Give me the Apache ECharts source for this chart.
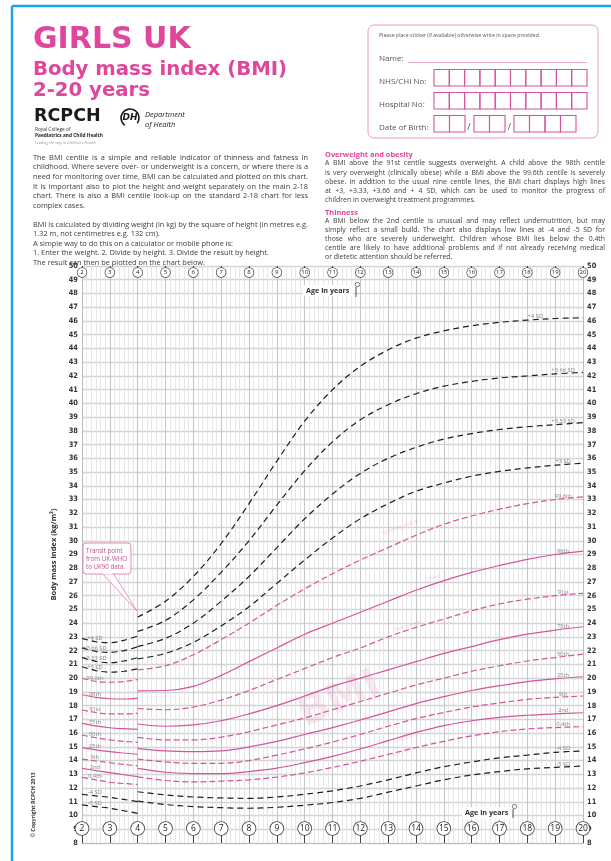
<!DOCTYPE html>
<html><head><meta charset="utf-8">
<script src="https://cdn.jsdelivr.net/npm/echarts@6/dist/echarts.min.js"></script>
<style>html,body{margin:0;padding:0;background:#fff;}#c{width:611px;height:861px;}</style>
</head><body><div id="c"></div>
<script>
// ---------------- DATA ----------------
const agesA = [2, 2.5, 3, 3.5, 4];                 // UK-WHO segment
const agesB = [4,5,6,7,8,9,10,11,12,13,14,15,16,17,18,19,20]; // UK90 segment

const p4A   = [22.9, 22.65, 22.58, 22.75, 23.07];
const p366A = [22.2, 21.95, 21.88, 22.0, 22.29];
const p333A = [21.49, 21.22, 21.12, 21.25, 21.49];
const p3A   = [20.83, 20.55, 20.44, 20.5, 20.68];
const c996A = [19.99, 19.76, 19.7, 19.75, 19.9];
const c98A  = [18.81, 18.6, 18.5, 18.48, 18.53];
const c91A  = [17.68, 17.5, 17.4, 17.4, 17.44];
const c75A  = [16.71, 16.52, 16.39, 16.32, 16.27];
const c50A  = [15.86, 15.66, 15.5, 15.4, 15.33];
const c25A  = [14.94, 14.78, 14.65, 14.55, 14.46];
const c9A   = [14.11, 13.97, 13.84, 13.72, 13.62];
const c2A   = [13.43, 13.27, 13.12, 12.97, 12.83];
const c04A  = [12.78, 12.6, 12.42, 12.33, 12.27];
const m4A   = [11.54, 11.43, 11.32, 11.17, 11.01];
const m5A   = [10.77, 10.65, 10.53, 10.35, 10.16];

const p4B   = [24.45, 25.6, 27.4, 29.8, 32.7, 35.8, 38.7, 41.0, 42.7, 43.9, 44.75, 45.28, 45.65, 45.9, 46.06, 46.18, 46.23];
const p366B = [23.4, 24.2, 25.7, 27.7, 30.0, 32.6, 35.1, 37.2, 38.8, 39.9, 40.7, 41.25, 41.6, 41.85, 42.0, 42.15, 42.25];
const p333B = [22.3, 22.9, 24.0, 25.6, 27.4, 29.5, 31.6, 33.4, 34.9, 36.0, 36.8, 37.4, 37.8, 38.1, 38.3, 38.45, 38.6];
const p3B   = [21.4, 21.8, 22.6, 23.8, 25.2, 26.9, 28.6, 30.2, 31.6, 32.7, 33.6, 34.2, 34.7, 35.05, 35.3, 35.5, 35.65];
const c996B = [20.6, 20.9, 21.7, 22.8, 24.0, 25.3, 26.5, 27.6, 28.6, 29.5, 30.4, 31.2, 31.8, 32.3, 32.7, 33.0, 33.2];
const c98B  = [19.08, 19.1, 19.4, 20.2, 21.2, 22.2, 23.2, 24.0, 24.8, 25.6, 26.4, 27.1, 27.7, 28.2, 28.65, 29.0, 29.25];
const c91B  = [17.79, 17.7, 17.9, 18.4, 19.1, 19.9, 20.7, 21.5, 22.2, 23.0, 23.7, 24.3, 24.9, 25.4, 25.75, 26.0, 26.17];
const c75B  = [16.66, 16.5, 16.6, 16.9, 17.4, 18.0, 18.7, 19.4, 20.0, 20.6, 21.2, 21.8, 22.3, 22.8, 23.2, 23.5, 23.74];
const c50B  = [15.69, 15.5, 15.5, 15.7, 16.1, 16.6, 17.1, 17.7, 18.3, 18.9, 19.5, 20.0, 20.5, 20.9, 21.25, 21.5, 21.75];
const c25B  = [14.89, 14.7, 14.65, 14.7, 15.0, 15.4, 15.9, 16.4, 16.95, 17.55, 18.15, 18.65, 19.1, 19.45, 19.75, 19.95, 20.1];
const c9B   = [14.11, 13.9, 13.8, 13.8, 14.0, 14.4, 14.85, 15.35, 15.9, 16.5, 17.05, 17.5, 17.9, 18.2, 18.45, 18.6, 18.7];
const c2B   = [13.43, 13.15, 13.05, 13.05, 13.2, 13.45, 13.85, 14.3, 14.85, 15.45, 16.05, 16.55, 16.9, 17.15, 17.3, 17.4, 17.48];
const c04B  = [12.82, 12.55, 12.45, 12.5, 12.6, 12.8, 13.1, 13.5, 13.95, 14.45, 14.95, 15.4, 15.8, 16.1, 16.3, 16.4, 16.47];
const m4B   = [11.73, 11.5, 11.35, 11.28, 11.25, 11.35, 11.55, 11.8, 12.15, 12.6, 13.1, 13.55, 13.9, 14.2, 14.4, 14.6, 14.7];
const m5B   = [11.05, 10.8, 10.65, 10.57, 10.53, 10.6, 10.75, 10.95, 11.25, 11.7, 12.15, 12.6, 12.95, 13.2, 13.4, 13.5, 13.6];

const curveNames = ['+4 SD','+3.66 SD','+3.33 SD','+3 SD','99.6th','98th','91st','75th','50th','25th','9th','2nd','0.4th','-4 SD','-5 SD'];
const curveKinds = ['sd','sd','sd','sd','cd','cs','cd','cs','cd','cs','cd','cs','cd','sd','sd'];

// ---------------- BUILD ----------------
const segA = [p4A,p366A,p333A,p3A,c996A,c98A,c91A,c75A,c50A,c25A,c9A,c2A,c04A,m4A,m5A];
const segB = [p4B,p366B,p333B,p3B,c996B,c98B,c91B,c75B,c50B,c25B,c9B,c2B,c04B,m4B,m5B];
const PINK = '#d4549c', TITLE = '#e0469c', GREY = '#3d3d3d';

function lineStyleFor(kind){
  if (kind === 'sd') return {color:'#1e1e1e', width:1.2, type:[6,4]};
  if (kind === 'cd') return {color:PINK, width:1.2, type:[6,3]};
  return {color:PINK, width:1.2, type:'solid'};
}
const series = [];
curveNames.forEach((nm, k) => {
  [[agesA, segA[k]], [agesB, segB[k]]].forEach(([xs, ys], j) => {
    series.push({
      type:'line', name: nm + (j ? ' UK90' : ' UK-WHO'), silent:true, z:3,
      smooth:0.35, symbol:'none', showSymbol:false,
      lineStyle: lineStyleFor(curveKinds[k]),
      data: xs.map((x,i)=>[x, ys[i]])
    });
  });
});
// curve labels (anchored on curve data points)
const labelFont = {fontSize:5.8, color:'#6a6a6a', fontFamily:'"Open Sans", sans-serif'};
series.push({
  type:'scatter', silent:true, z:4, symbol:'circle', symbolSize:1, itemStyle:{color:'rgba(0,0,0,0)'},
  label:{show:true, position:'top', distance:1, offset:[-1,1], formatter:p=>p.data[2], ...labelFont},
  data: curveNames.map((nm,k)=>[agesA[1], segA[k][1], nm])
});
series.push({
  type:'scatter', silent:true, z:4, symbol:'circle', symbolSize:1, itemStyle:{color:'rgba(0,0,0,0)'},
  label:{show:true, position:'top', distance:1, offset:[8,1], formatter:p=>p.data[2], ...labelFont},
  data: curveNames.map((nm,k)=> k===0 ? [agesB[14], segB[k][14], nm] : [agesB[15], segB[k][15], nm])
});

// ---------------- GRAPHICS (header etc.) ----------------
const G = [];
const FAM = '"Open Sans", sans-serif';
function T(x,y,text,o={}){
  G.push({type:'text', x, y, rotation:o.rot||0, silent:true, z:o.z||20,
    style:{text, x:0, y:0, fill:o.color||GREY,
      fontSize:o.size||7, fontFamily:o.family||FAM,
      fontWeight:o.weight||'normal', fontStyle:o.style||'normal',
      align:o.align||'left', verticalAlign:o.va||'middle'}});
}
function R(x,y,w,h,o={}){
  G.push({type:'rect', silent:true, z:o.z||15, shape:{x,y,width:w,height:h,r:o.r||0},
    style:{fill:o.fill||'none', stroke:o.stroke||'none', lineWidth:o.lw||1}});
}
function L(x1,y1,x2,y2,o={}){
  G.push({type:'line', silent:true, z:o.z||15, shape:{x1,y1,x2,y2},
    style:{stroke:o.stroke||'#000', lineWidth:o.lw||1}});
}
const ctx = document.createElement('canvas').getContext('2d');
function J(x,y,width,text,size,o={}){   // justified line
  ctx.font = size+'px "Open Sans"';
  const words = text.split(' ');
  const ws = words.map(w=>ctx.measureText(w).width);
  const sum = ws.reduce((a,b)=>a+b,0);
  const gap = words.length>1 ? (width-sum)/(words.length-1) : 0;
  let cx = x;
  words.forEach((w,i)=>{ T(cx,y,w,{size, color:o.color}); cx += ws[i]+gap; });
}
// frame
L(12,6,611,6,{stroke:'#1ea4e6', lw:2.5});
L(12,6,12,861,{stroke:'#1ea4e6', lw:2.5});
// titles
T(33,40,'GIRLS UK',{size:30, weight:'bold', family:'"DejaVu Sans", sans-serif', color:TITLE});
T(33,70,'Body mass index (BMI)',{size:19.7, weight:'bold', family:'"DejaVu Sans", sans-serif', color:TITLE});
T(33,91,'2-20 years',{size:19.7, weight:'bold', family:'"DejaVu Sans", sans-serif', color:TITLE});
// logos
T(34,116,'RCPCH',{size:17.5, weight:'bold', family:'"DejaVu Sans", sans-serif', color:'#1a1a1a'});
T(35,130,'Royal College of',{size:4.8, color:'#333'});
T(35,135.5,'Paediatrics and Child Health',{size:4.8, weight:'bold', color:'#222'});
T(35,143,'Leading the way in Children\u2019s Health',{size:3.8, style:'italic', color:'#999'});
G.push({type:'arc', silent:true, z:15, shape:{cx:130, cy:118, r:9, startAngle:2.2, endAngle:6.9}, style:{stroke:'#1a1a1a', lineWidth:1.6, fill:'none'}});
T(130,118,'DH',{size:9, weight:'bold', style:'italic', align:'center', color:'#1a1a1a', family:'"DejaVu Sans", sans-serif'});
T(145,115,'Department',{size:7.5, style:'italic', color:'#1a1a1a'});
T(145,124.5,'of Health',{size:7.5, style:'italic', color:'#1a1a1a'});
// form box
R(368,25,230,113,{stroke:'#ea9cc7', lw:1, r:6});
T(379,35.5,'Please place sticker (if available) otherwise write in space provided.',{size:5.2, color:'#555'});
T(379,59,'Name:',{size:8, color:'#555'});
L(408,62.5,587,62.5,{stroke:'#e79ac5', lw:0.8});
T(379,82,'NHS/CHI No:',{size:8, color:'#555'});
T(379,105,'Hospital No:',{size:8, color:'#555'});
T(379,128,'Date of Birth:',{size:8, color:'#555'});
const BX = '#d9509a';
for (let i=0;i<10;i++){ R(434+i*15.3,69.5,15.3,16.5,{stroke:BX,lw:1.1}); R(434+i*15.3,92.5,15.3,16.5,{stroke:BX,lw:1.1}); }
[[434,2],[474,2],[514,4]].forEach(([x0,n])=>{ for(let i=0;i<n;i++) R(x0+i*15.5,115.5,15.5,16.5,{stroke:BX,lw:1.1}); });
T(469,127,'/',{size:9, color:'#555', align:'center'});
T(509.5,127,'/',{size:9, color:'#555', align:'center'});
// paragraphs
const LS = 7.4, RS = 6.9;
const leftPara = [
 'The BMI centile is a simple and reliable indicator of thinness and fatness in',
 'childhood. Where severe over- or underweight is a concern, or where there is a',
 'need for monitoring over time, BMI can be calculated and plotted on this chart.',
 'It is important also to plot the height and weight separately on the main 2-18',
 'chart. There is also a BMI centile look-up on the standard 2-18 chart for less',
 'complex cases.'];
leftPara.forEach((s,i)=> i<leftPara.length-1 ? J(33,157.5+i*9.65,275,s,LS) : T(33,157.5+i*9.65,s,{size:LS}));
const leftPara2 = [
 'BMI is calculated by dividing weight (in kg) by the square of height (in metres e.g.',
 '1.32 m, not centimetres e.g. 132 cm).',
 'A simple way to do this on a calculator or mobile phone is:',
 '1. Enter the weight. 2. Divide by height. 3. Divide the result by height.',
 'The result can then be plotted on the chart below.'];
leftPara2.forEach((s,i)=> i===0 ? J(33,225,275,s,LS) : T(33,225+i*9.35,s,{size:LS}));
T(325,155,'Overweight and obesity',{size:7.4, weight:'bold', color:TITLE});
const rightPara = [
 'A BMI above the 91st centile suggests overweight. A child above the 98th centile',
 'is very overweight (clinically obese) while a BMI above the 99.6th centile is severely',
 'obese. In addition to the usual nine centile lines, the BMI chart displays high lines',
 'at +3, +3.33, +3.66 and + 4 SD, which can be used to monitor the progress of',
 'children in overweight treatment programmes.'];
rightPara.forEach((s,i)=> i<rightPara.length-1 ? J(325,163.5+i*9.05,280,s,RS) : T(325,163.5+i*9.05,s,{size:RS}));
T(325,212.5,'Thinness',{size:7.4, weight:'bold', color:TITLE});
const rightPara2 = [
 'A BMI below the 2nd centile is unusual and may reflect undernutrition, but may',
 'simply reflect a small build. The chart also displays low lines at -4 and -5 SD for',
 'those who are severely underweight. Children whose BMI lies below the 0.4th',
 'centile are likely to have additional problems and if not already receiving medical',
 'or dietetic attention should be referred.'];
rightPara2.forEach((s,i)=> i<rightPara2.length-1 ? J(325,221+i*9.05,280,s,RS) : T(325,221+i*9.05,s,{size:RS}));
// copyright
T(33,805,'\u00a9 Copyright RCPCH 2013',{size:5.4, weight:'bold', rot:Math.PI/2, align:'center', color:'#333'});
// age in years labels
R(303,285,50,11,{fill:'#fff', z:12});
T(306,291,'Age in years',{size:7.2, weight:'bold', color:'#333', z:21});
L(356,287,356,297,{stroke:'#444', lw:0.9, z:21});
G.push({type:'circle', silent:true, z:21, shape:{cx:357.5,cy:284.5,r:2.2}, style:{fill:'#fff', stroke:'#444', lineWidth:0.7}});
R(462,807,50,12,{fill:'#fff', z:12});
T(465,813,'Age in years',{size:7.2, weight:'bold', color:'#333', z:21});
L(513,809,513,818,{stroke:'#444', lw:0.9, z:21});
G.push({type:'circle', silent:true, z:21, shape:{cx:514.5,cy:806.5,r:2.2}, style:{fill:'#fff', stroke:'#444', lineWidth:0.7}});
// transit box
G.push({type:'polygon', silent:true, z:16, shape:{points:[[102,573],[113,573],[137,611]]}, style:{fill:'#fff', stroke:'#e37bb5', lineWidth:0.8}});
R(83,543,48,31,{fill:'#fff', stroke:'#e37bb5', lw:0.9, r:3, z:17});
L(103,573.5,112.5,573.5,{stroke:'#fff', lw:1.4, z:18});
T(86,551,'Transit point',{size:6.2, color:'#c4508a'});
T(86,559.3,'from UK-WHO',{size:6.2, color:'#c4508a'});
T(86,567.6,'to UK90 data.',{size:6.2, color:'#c4508a'});
// watermarks
const WM = 'rgba(232,120,175,0.16)';
T(340,700,'BMI',{size:40, weight:'bold', family:'"DejaVu Sans", sans-serif', color:WM, rot:0.42, align:'center', z:1});
const WS = 'rgba(228,120,175,0.35)';
T(408,626,'Overweight',{size:5.5, color:WS, rot:0.3, align:'center', z:2});
T(433,578,'Obese',{size:5.5, color:WS, rot:0.3, align:'center', z:2});
T(400,527,'Severely obese',{size:5.5, color:WS, rot:0.35, align:'center', z:2});
T(404,738,'Low BMI',{size:5.5, color:WS, rot:0.3, align:'center', z:2});
T(404,752,'Very thin',{size:5.5, color:WS, rot:0.3, align:'center', z:2});

// ---------------- OPTION ----------------
const axisLblFont = {fontSize:7.4, fontWeight:'bold', color:'#333', fontFamily:'"DejaVu Sans Condensed","DejaVu Sans",sans-serif'};
const option = {
  animation:false,
  backgroundColor:'#fff',
  grid:{left:82, right:28, top:266, bottom:18, containLabel:false},
  xAxis:[{
    type:'value', min:2, max:20, interval:1, position:'bottom',
    axisLine:{show:true, lineStyle:{color:'#bdbdbd', width:1}},
    axisTick:{show:true, inside:true, length:8, lineStyle:{color:'#444', width:1}},
    axisLabel:{show:true, inside:true, margin:8, interval:0, showMinLabel:true, showMaxLabel:true,
      formatter:v=>'{c|'+v+'}',
      rich:{c:{width:13, height:13, lineHeight:13, align:'center', borderRadius:7, borderColor:'#444', borderWidth:0.8, backgroundColor:'#fff', fontSize:8.5, color:'#222', fontFamily:FAM}}},
    splitLine:{show:true, lineStyle:{color:'#c6c6c6', width:1.1}},
    minorTick:{show:true, splitNumber:6, length:0},
    minorSplitLine:{show:true, lineStyle:{color:'#e1e1e1', width:0.8}}
  },{
    type:'value', min:2, max:20, interval:1, position:'top',
    axisLine:{show:false},
    axisTick:{show:true, inside:true, length:5, lineStyle:{color:'#444', width:1}},
    axisLabel:{show:true, inside:true, margin:2, interval:0, showMinLabel:true, showMaxLabel:true,
      formatter:v=>'{c|'+v+'}',
      rich:{c:{width:9, height:9, lineHeight:9, align:'center', borderRadius:5, borderColor:'#444', borderWidth:0.7, backgroundColor:'#fff', fontSize:6, color:'#222', fontFamily:FAM}}},
    splitLine:{show:false}
  }],
  yAxis:[{
    type:'value', min:8, max:50, interval:1, position:'left',
    name:'Body mass index (kg/m\u00b2)', nameLocation:'middle', nameGap:20, nameRotate:90,
    nameTextStyle:{fontSize:7.5, fontWeight:'bold', color:'#333', fontFamily:FAM},
    axisLine:{show:true, lineStyle:{color:'#bdbdbd'}}, axisTick:{show:false},
    axisLabel:{margin:4, ...axisLblFont},
    splitLine:{show:true, lineStyle:{color:'#d3d3d3', width:1.4}}
  },{
    type:'value', min:8, max:50, interval:1, position:'right',
    axisLine:{show:true, lineStyle:{color:'#bdbdbd'}}, axisTick:{show:false},
    axisLabel:{margin:4, ...axisLblFont},
    splitLine:{show:false}
  }],
  series,
  graphic:{elements:G}
};
const chart = echarts.init(document.getElementById('c'));
chart.setOption(option);
</script></body></html>
